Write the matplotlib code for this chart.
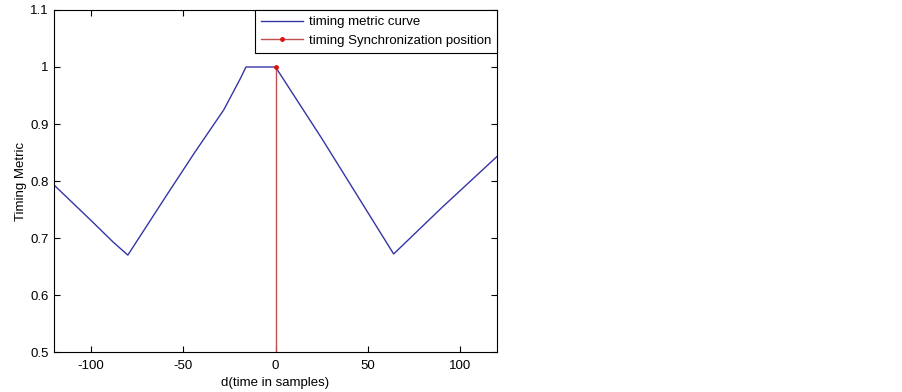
#!/usr/bin/env python3

import matplotlib
matplotlib.use('Agg')
import matplotlib.pyplot as plt
from matplotlib.legend_handler import HandlerLine2D

# timing metric
d_samples = [-120, -100, -88, -80, -60, -44, -28, -19, -16, 0, 8, 25, 40, 64, 90, 120]
metric    = [0.793, 0.731, 0.693, 0.670, 0.770, 0.849, 0.925, 0.980, 1.000, 1.000,
             0.960, 0.875, 0.797, 0.672, 0.753, 0.843]

sync_pos = 0
sync_val = 1.0

xticks = [-100, -50, 0, 50, 100]
yticks = [0.5, 0.6, 0.7, 0.8, 0.9, 1.0, 1.1]
ylabels = ['0.5', '0.6', '0.7', '0.8', '0.9', '1', '1.1']


class RightMarker(HandlerLine2D):
    # matlab puts the stem marker at the right end of the legend line
    def get_xdata(self, legend, xdescent, ydescent, width, height, fontsize):
        xdata, _ = super().get_xdata(legend, xdescent, ydescent, width, height, fontsize)
        return xdata, [xdata[-1]]


plt.rcParams['font.family'] = ['Liberation Sans', 'DejaVu Sans']
plt.rcParams['font.size'] = 9.5
plt.rcParams['axes.unicode_minus'] = False

fig = plt.figure(figsize=(9.03, 3.92), dpi=100)
ax = fig.add_axes([0.0598, 0.102, 0.4906, 0.8725])

ax.plot(d_samples, metric, color='#3535a5', lw=1.0, label='timing metric curve')
ax.plot([sync_pos, sync_pos], [0.5, sync_val], color='#c05050', lw=1.0)
stem, = ax.plot([sync_pos], [sync_val], color='#c05050', lw=1.0, marker='o',
                ms=2.5, mfc='#dd1111', mec='#dd1111',
                label='timing Synchronization position')

ax.set_xlim(-120, 120)
ax.set_ylim(0.5, 1.1)
ax.set_xticks(xticks)
ax.set_yticks(yticks)
ax.set_yticklabels(ylabels)
ax.tick_params(direction='in', top=True, right=True, length=4, width=0.8,
               labelsize=9.5)
ax.tick_params(axis='x', pad=6)
ax.tick_params(axis='y', pad=4)
for s in ax.spines.values():
    s.set_linewidth(0.8)

ax.set_xlabel('d(time in samples)', fontsize=9.5, labelpad=3)
ax.set_ylabel('Timing Metric', fontsize=9.5, labelpad=2)

leg = ax.legend(loc='upper right', bbox_to_anchor=(1.0, 1.0), fancybox=False,
                framealpha=1, edgecolor='black', borderaxespad=0,
                handlelength=3.2, handletextpad=0.45, labelspacing=0.5,
                borderpad=0.45, numpoints=1, fontsize=9.5,
                handler_map={stem: RightMarker()})
leg.get_frame().set_linewidth(0.8)

plt.savefig('out.png', dpi=100)
